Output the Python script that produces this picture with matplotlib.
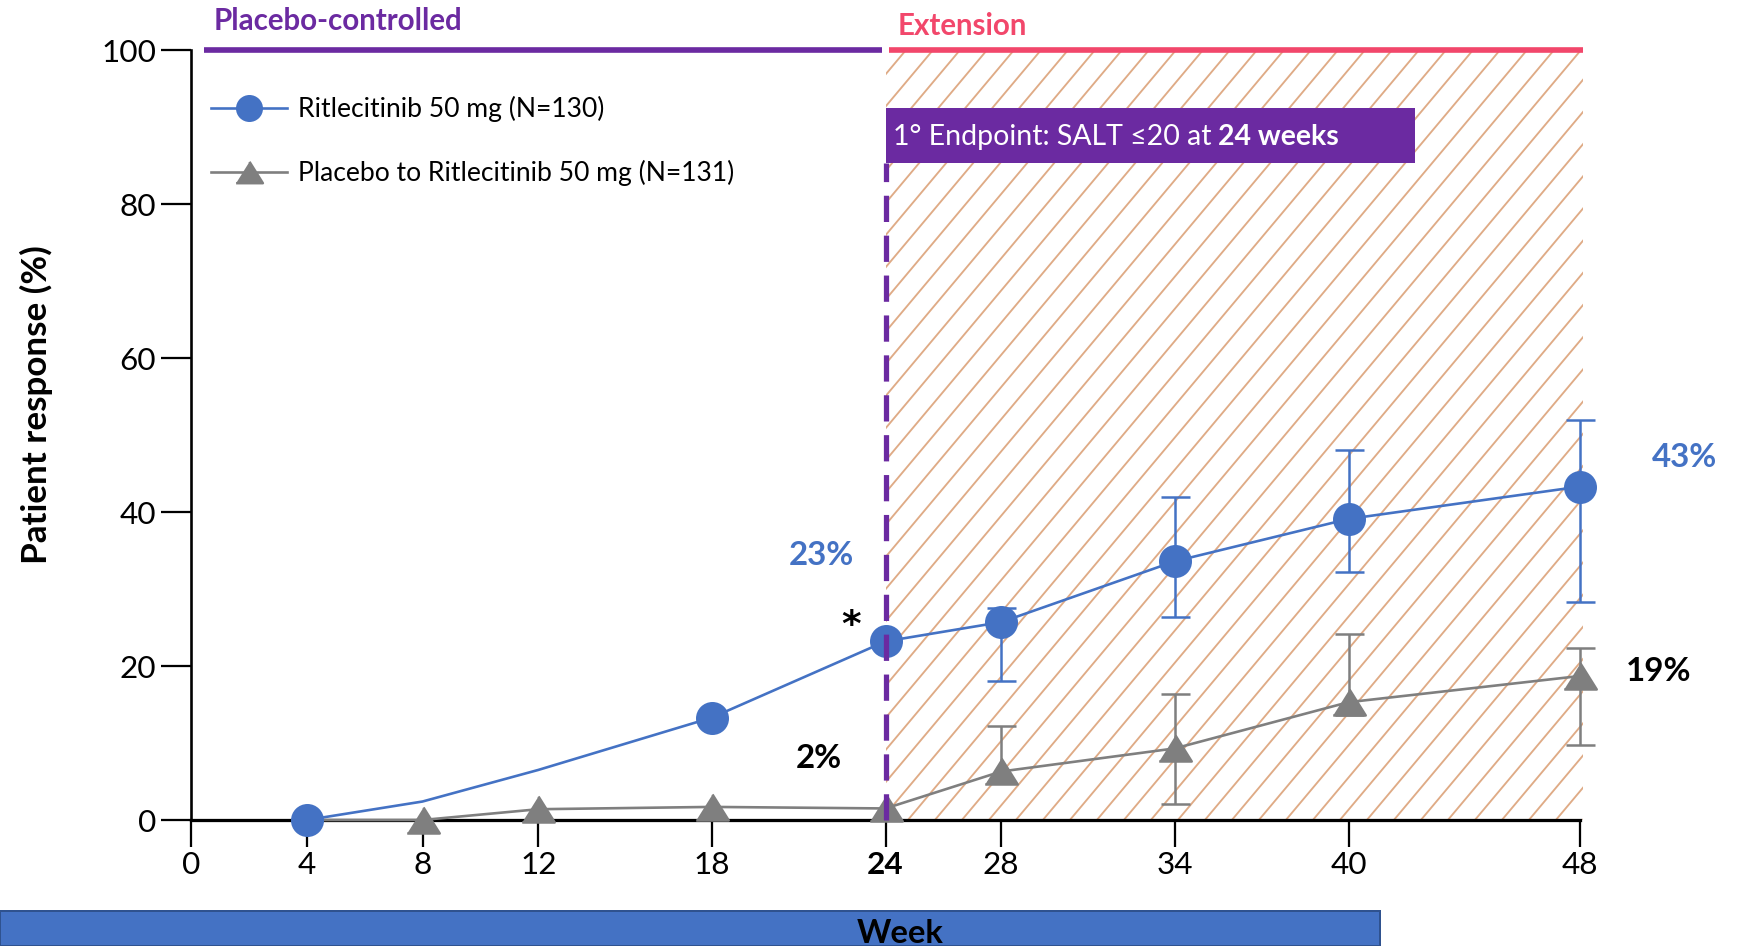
import matplotlib
matplotlib.use('Agg')
import numpy as np
import matplotlib.pyplot as plt
from matplotlib.patches import Rectangle
from matplotlib.lines import Line2D
from matplotlib.collections import LineCollection
from matplotlib.transforms import IdentityTransform

plt.rcParams['font.family'] = ['Lato', 'DejaVu Sans']

# ---------------- data ----------------
tick_weeks = [0, 4, 8, 12, 18, 24, 28, 34, 40, 48]
tick_labels = ['0', '4', '8', '12', '18', '24', '28', '34', '40', '48']
y_ticks = [0, 20, 40, 60, 80, 100]

blue_weeks = [4, 8, 12, 18, 24, 28, 34, 40, 48]
blue_vals = [0.0, 2.4, 6.5, 13.3, 23.2, 25.7, 33.6, 39.1, 43.3]
blue_marker_idx = [0, 3, 4, 5, 6, 7, 8]

gray_weeks = [4, 8, 12, 18, 24, 28, 34, 40, 48]
gray_vals = [0.0, 0.0, 1.4, 1.7, 1.5, 6.3, 9.3, 15.3, 18.7]
gray_marker_idx = [1, 2, 3, 4, 5, 6, 7, 8]

err_weeks = [28, 34, 40, 48]
blue_center = [25.7, 33.6, 39.1, 43.3]
blue_lo = [18.1, 26.3, 32.2, 28.3]
blue_hi = [27.5, 42.0, 48.1, 51.9]
gray_center = [6.3, 9.3, 15.3, 18.7]
gray_lo = [5.0, 2.1, 13.7, 9.8]
gray_hi = [12.2, 16.3, 24.1, 22.3]

blue_label = 'Ritlecitinib 50 mg (N=130)'
gray_label = 'Placebo to Ritlecitinib 50 mg (N=131)'

# annotations (text, week, value, colour)
pct_labels = [('23%', 21.8, 34.3, '#4472C4'), ('2%', 21.7, 8.0, 'black'),
              ('43%', 51.6, 47.1, '#4472C4'), ('19%', 50.7, 19.3, 'black')]

switch_week = 24
phase_start = 0.45
phase_end = 48.1

# ---------------- style ----------------
BLUE = '#4472C4'
GRAY = '#7F7F7F'
PURPLE = '#6B2AA1'
PINK = '#F2476B'
HATCH = '#DFAB86'
HATCH_SPACING_PX = 27
HATCH_ANGLE_DEG = 50

DPI = 180
W, H = 1742, 946
fig = plt.figure(figsize=(W / DPI, H / DPI), dpi=DPI)
ax = fig.add_axes([191 / W, 1 - 820 / H, (1580 - 191) / W, (820 - 50) / H])

ax.set_xlim(0, 48)
ax.set_ylim(0, 100)

# extension hatch region (diagonal lines clipped to the span)
span = ax.axvspan(switch_week, phase_end, facecolor='white', edgecolor='none',
                  linewidth=0, zorder=0, clip_on=False)
fig.canvas.draw()
x0, y0 = ax.transData.transform((switch_week, 0))
x1, y1 = ax.transData.transform((phase_end, 100))
dx = (y1 - y0) / np.tan(np.radians(HATCH_ANGLE_DEG))
segs = [[(c, y0), (c + dx, y1)] for c in np.arange(x1, x0 - dx - HATCH_SPACING_PX,
                                                   -HATCH_SPACING_PX)]
lc = LineCollection(segs, transform=IdentityTransform(), colors=HATCH,
                    linewidths=0.75, zorder=0.5)
ax.add_collection(lc, autolim=False)
lc.set_clip_path(span)

# phase bars on top
ax.plot([phase_start, switch_week - 0.12], [100, 100], color=PURPLE, lw=2.25,
        solid_capstyle='butt', clip_on=False, zorder=3)
ax.plot([switch_week + 0.12, phase_end], [100, 100], color=PINK, lw=2.25,
        solid_capstyle='butt', clip_on=False, zorder=3)

# error bars
for cen, lo, hi, col in [(blue_center, blue_lo, blue_hi, BLUE),
                         (gray_center, gray_lo, gray_hi, GRAY)]:
    eb = ax.errorbar(err_weeks, cen,
                     yerr=[[c - l for c, l in zip(cen, lo)],
                           [h - c for c, h in zip(cen, hi)]],
                     fmt='none', ecolor=col, elinewidth=1.0, capsize=5.8,
                     capthick=1.0, zorder=4)
    for art in eb.lines[1]:
        art.set_clip_on(False)
    for art in eb.lines[2]:
        art.set_clip_on(False)

tri = [(-1, -0.8), (1, -0.8), (0, 0.8)]
ax.plot(gray_weeks, gray_vals, color=GRAY, lw=1.05, marker=tri, markersize=13,
        markevery=gray_marker_idx, mfc=GRAY, mec=GRAY, clip_on=False, zorder=5)
ax.plot(blue_weeks, blue_vals, color=BLUE, lw=1.05, marker='o', markersize=12.2,
        markevery=blue_marker_idx, mfc=BLUE, mec=BLUE, clip_on=False, zorder=6)

# dashed endpoint line
ax.plot([switch_week, switch_week], [0, 85.3], color=PURPLE, lw=2.1,
        dashes=(5, 2.6), zorder=7, clip_on=False)

# endpoint box
ax.add_patch(Rectangle((switch_week, 85.3), 18.3, 7.2, facecolor=PURPLE,
                       edgecolor='none', zorder=8, clip_on=False))
t1 = ax.text(switch_week + 0.25, 87.0, '1° Endpoint: SALT ≤20 at ', color='white',
             fontsize=11.4, va='bottom', ha='left', zorder=9)
ax.annotate('24 weeks', xy=(1, 0), xycoords=t1, va='bottom', ha='left',
            color='white', fontsize=11.4, fontweight='bold', zorder=9)

# percentage labels
for txt, x, y, c in pct_labels:
    ax.text(x, y, txt, color=c, fontsize=13.2, fontweight='bold', ha='center',
            va='center', zorder=9, clip_on=False)
ax.text(22.8, 23.9, '*', color='black', fontsize=15, fontweight='bold', ha='center',
        va='baseline', zorder=9, family='DejaVu Sans')

# axes styling
for s in ['top', 'right']:
    ax.spines[s].set_visible(False)
ax.spines['left'].set_linewidth(1.05)
ax.spines['bottom'].set_linewidth(1.3)
ax.set_xticks(tick_weeks)
ax.set_xticklabels(tick_labels)
ax.set_yticks(y_ticks)
ax.tick_params(axis='x', direction='out', length=10.8, width=0.9, pad=1.6, labelsize=12.6)
ax.tick_params(axis='y', direction='out', length=12, width=0.9, pad=2, labelsize=12.6)
for lab in ax.get_xticklabels():
    if lab.get_text() == '24':
        lab.set_fontweight('bold')

# legend
handles = [Line2D([], [], color=BLUE, lw=1.05, marker='o', markersize=9.8, mfc=BLUE, mec=BLUE),
           Line2D([], [], color=GRAY, lw=1.05, marker=tri, markersize=10.7, mfc=GRAY, mec=GRAY)]
ax.legend(handles, [blue_label, gray_label], loc='upper left',
          bbox_to_anchor=(211 / W, 1 - 96 / H), bbox_transform=fig.transFigure,
          frameon=False, fontsize=10.6, handlelength=2.88, handletextpad=0.42,
          labelspacing=1.42, borderpad=0, borderaxespad=0)

# y label
fig.text(36 / W, 1 - 405 / H, 'Patient response (%)', rotation=90, fontsize=14,
         fontweight='bold', ha='center', va='center')

# phase titles
fig.text(214 / W, 1 - 21 / H, 'Placebo-controlled', color=PURPLE, fontsize=11.8,
         fontweight='bold', ha='left', va='center')
fig.text(898 / W, 1 - 26 / H, 'Extension', color=PINK, fontsize=11.8,
         fontweight='bold', ha='left', va='center')

# bottom bar with 'Week'
fig.patches.append(Rectangle((0, 0), 1380 / W, 35 / H, transform=fig.transFigure,
                             facecolor=BLUE, edgecolor='#2F528F', lw=0.8, zorder=0))
fig.text(900 / W, 3 / H, 'Week', fontsize=13.1, fontweight='bold', ha='center',
         va='baseline')

fig.savefig('out.png', dpi=DPI)
